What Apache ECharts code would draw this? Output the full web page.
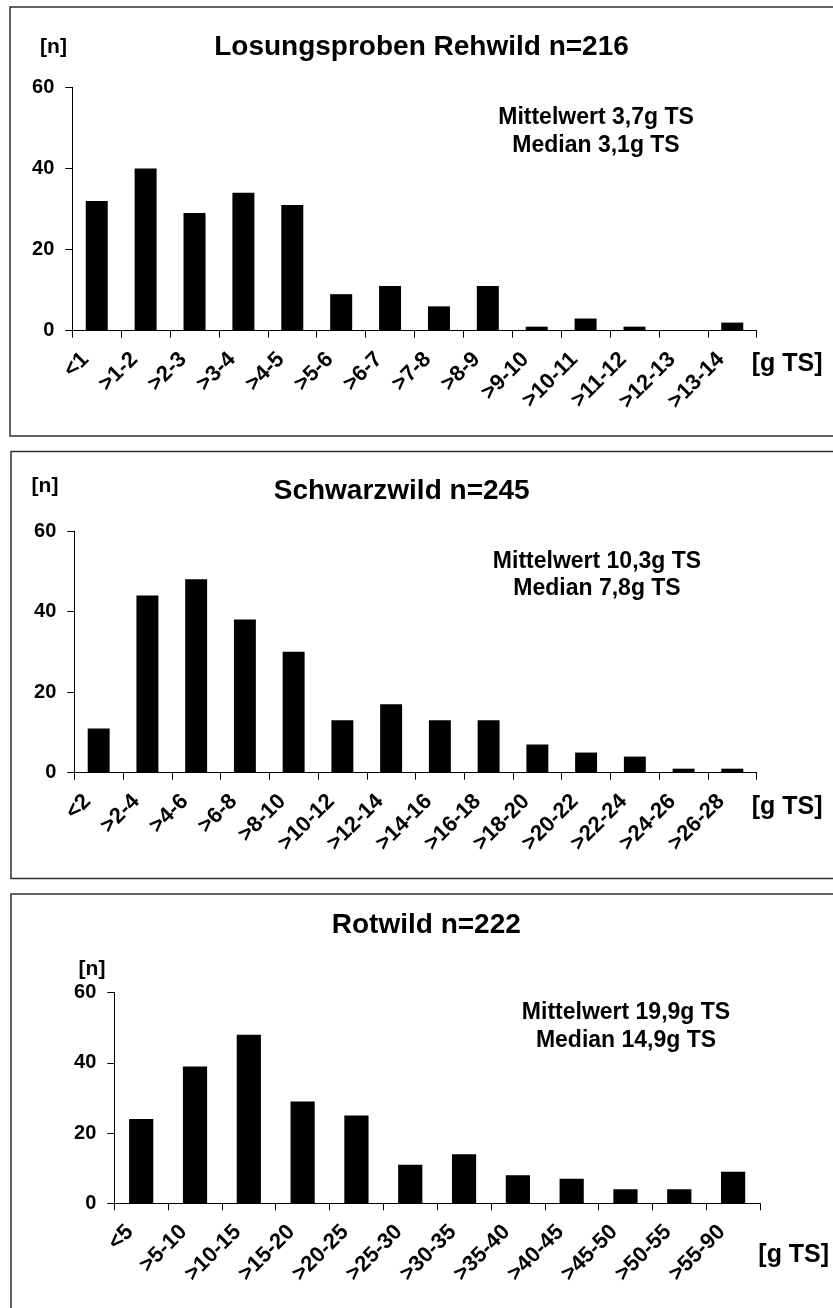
<!DOCTYPE html>
<html>
<head>
<meta charset="utf-8">
<script src="https://cdn.jsdelivr.net/npm/echarts@6/dist/echarts.min.js"></script>
<style>
html,body{margin:0;padding:0;background:#fff;}
#c{width:833px;height:1308px;}
</style>
</head>
<body>
<div id="c"></div>
<script>
// ---- data ----
const rehCategories = ['<1','>1-2','>2-3','>3-4','>4-5','>5-6','>6-7','>7-8','>8-9','>9-10','>10-11','>11-12','>12-13','>13-14'];
const rehValues = [32,40,29,34,31,9,11,6,11,1,3,1,0,2];
const schCategories = ['<2','>2-4','>4-6','>6-8','>8-10','>10-12','>12-14','>14-16','>16-18','>18-20','>20-22','>22-24','>24-26','>26-28'];
const schValues = [11,44,48,38,30,13,17,13,13,7,5,4,1,1];
const rotCategories = ['<5','>5-10','>10-15','>15-20','>20-25','>25-30','>30-35','>35-40','>40-45','>45-50','>50-55','>55-90'];
const rotValues = [24,39,48,29,25,11,14,8,7,4,4,9];
const yTicks = [0,20,40,60];
const titles = ['Losungsproben Rehwild n=216','Schwarzwild n=245','Rotwild n=222'];
const meanTexts = ['Mittelwert 3,7g TS','Mittelwert 10,3g TS','Mittelwert 19,9g TS'];
const medianTexts = ['Median 3,1g TS','Median 7,8g TS','Median 14,9g TS'];
const yName = '[n]';
const xName = '[g TS]';

// ---- layout ----
const FONT = "'Liberation Sans', Arial, sans-serif";
const grids = [
  {left:72.3, top:87.3, width:684.4, height:243.4},
  {left:74.3, top:531, width:682.4, height:241.7},
  {left:114.3, top:992.7, width:645.7, height:210.6}
];
const cats = [rehCategories, schCategories, rotCategories];
const vals = [rehValues, schValues, rotValues];
const titlePos = [[421.5,47],[401.7,491],[426.3,925]];
const annoPos = [[596,117.5,146],[597,561.5,589],[626,1013,1040.5]];
const yNamePos = [[53.5,47],[45,486],[92,969]];
const xNamePos = [[751.7,364.5],[751.7,807.5],[758.3,1255]];
const panels = [
  {x:10, y:7, w:900, h:429},
  {x:11, y:451.5, w:900, h:427},
  {x:11, y:894, w:900, h:600}
];

const chart = echarts.init(document.getElementById('c'), null, {renderer:'canvas'});

const graphic = [];
panels.forEach(p => graphic.push({
  type:'rect', shape:{x:p.x, y:p.y, width:p.w, height:p.h},
  style:{fill:'none', stroke:'#333', lineWidth:1.5}, silent:true, z:-1
}));
for (let i=0;i<3;i++){
  graphic.push({type:'text', x:titlePos[i][0], y:titlePos[i][1],
    style:{text:titles[i], font:'bold 28px '+FONT, fill:'#000', textAlign:'center', textVerticalAlign:'middle'}});
  graphic.push({type:'text', x:annoPos[i][0], y:annoPos[i][1],
    style:{text:meanTexts[i], font:'bold 23px '+FONT, fill:'#000', textAlign:'center', textVerticalAlign:'middle'}});
  graphic.push({type:'text', x:annoPos[i][0], y:annoPos[i][2],
    style:{text:medianTexts[i], font:'bold 23px '+FONT, fill:'#000', textAlign:'center', textVerticalAlign:'middle'}});
  graphic.push({type:'text', x:yNamePos[i][0], y:yNamePos[i][1],
    style:{text:yName, font:'bold 21px '+FONT, fill:'#000', textAlign:'center', textVerticalAlign:'middle'}});
  graphic.push({type:'text', x:xNamePos[i][0], y:xNamePos[i][1],
    style:{text:xName, font:'bold 25px '+FONT, fill:'#000', textAlign:'left', textVerticalAlign:'middle'}});
}

const option = {
  animation:false,
  backgroundColor:'#fff',
  grid: grids.map(g => Object.assign({containLabel:false}, g)),
  xAxis: cats.map((c,i) => ({
    type:'category', gridIndex:i, data:c,
    axisLine:{show:true, lineStyle:{color:'#000', width:1}},
    axisTick:{show:true, length:7, lineStyle:{color:'#000', width:1}},
    axisLabel:{interval:0, rotate:45, margin:14, padding:[0,16,0,0], color:'#000', fontWeight:'bold', fontSize:22, fontFamily:FONT},
    splitLine:{show:false}
  })),
  yAxis: cats.map((c,i) => ({
    type:'value', gridIndex:i, min:yTicks[0], max:yTicks[yTicks.length-1], interval:yTicks[1]-yTicks[0],
    axisLine:{show:true, lineStyle:{color:'#000', width:1}},
    axisTick:{show:true, length:7, lineStyle:{color:'#000', width:1}},
    axisLabel:{margin:18, color:'#000', fontWeight:'bold', fontSize:20, fontFamily:FONT},
    splitLine:{show:false}
  })),
  series: vals.map((v,i) => ({
    type:'bar', xAxisIndex:i, yAxisIndex:i, data:v, barWidth:'45%',
    itemStyle:{color:'#000'}, silent:true
  })),
  graphic: graphic
};
chart.setOption(option);
</script>
</body>
</html>
